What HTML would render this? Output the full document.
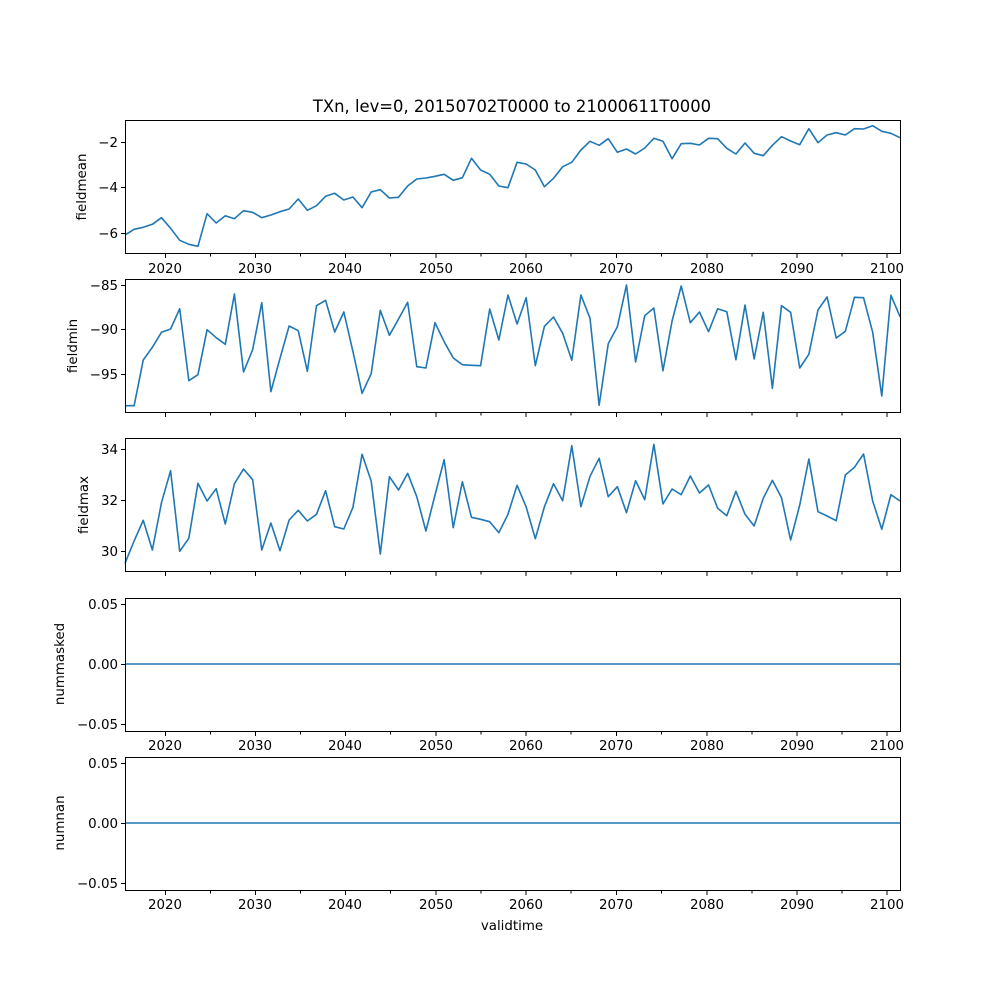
<!DOCTYPE html>
<html><head><meta charset="utf-8"><style>body{margin:0;background:#fff}svg{display:block}text{font-family:"DejaVu Sans","Liberation Sans",sans-serif;font-size:13.4px;fill:#000}</style></head>
<body>
<svg width="1000" height="1000" viewBox="0 0 1000 1000" xmlns="http://www.w3.org/2000/svg">
<rect width="1000" height="1000" fill="#fff"/>
<text x="512" y="112" text-anchor="middle" style="font-size:16.4px">TXn, lev=0, 20150702T0000 to 21000611T0000</text>
<g fill="none" stroke="#1f77b4" stroke-width="1.6" stroke-linejoin="round">
<polyline vector-effect="non-scaling-stroke" transform="translate(125,0) scale(9.118,1)" points="0,235 1,229.3 2,227.3 3,224.3 4,217.7 5,228.3 6,240.3 7,244.3 8,246.3 9,213.7 10,223 11,215.7 12,218.7 13,210.7 14,212.3 15,217.7 16,215 17,211.7 18,209 19,199 20,210.3 21,205.7 22,196.3 23,193.3 24,200 25,197 26,207.7 27,192 28,189.7 29,198 30,197.3 31,186 32,179 33,178 34,176.3 35,174.3 36,180.3 37,177.7 38,158.3 39,170 40,174.3 41,186 42,187.7 43,162.3 44,164 45,170 46,186.7 47,178.3 48,166.7 49,162.3 50,150 51,141.3 52,145.3 53,138.7 54,152.3 55,149 56,154 57,148 58,138.3 59,141.3 60,158.7 61,143.7 62,143.3 63,145 64,138.3 65,138.7 66,148.3 67,154 68,143 69,153.3 70,155.7 71,145.3 72,136.7 73,141 74,144.7 75,128.7 76,142.7 77,135 78,132.7 79,135 80,128.7 81,129 82,125.7 83,131.3 84,133.3 85,137.7"/>
<polyline vector-effect="non-scaling-stroke" transform="translate(125,0) scale(9.118,1)" points="0,405.7 1,405.7 2,360 3,347.3 4,332.3 5,329 6,308.7 7,380.7 8,374.7 9,329.7 10,337.7 11,344.3 12,294 13,372 14,349.7 15,302.7 16,391.7 17,358.3 18,326 19,330.7 20,371.3 21,305.7 22,300.3 23,332 24,312 25,351.7 26,393.3 27,373.7 28,310.3 29,335.3 30,319 31,302.3 32,366.7 33,368 34,322.7 35,341.7 36,358 37,364.7 38,365.3 39,365.7 40,309 41,340 42,295 43,324 44,297.7 45,365.7 46,326.3 47,317 48,333.3 49,360.3 50,295 51,318.3 52,405.3 53,343.7 54,326.7 55,285 56,362 57,315.7 58,308 59,370.7 60,321 61,286 62,322.7 63,312 64,331.7 65,308.7 66,311.7 67,359.7 68,305 69,359 70,312.3 71,388.3 72,305.7 73,312.3 74,368 75,354.3 76,310 77,297 78,338 79,331.3 80,297.3 81,297.7 82,332.3 83,396 84,295.3 85,316.7"/>
<polyline vector-effect="non-scaling-stroke" transform="translate(125,0) scale(9.118,1)" points="0,563.3 1,541 2,520.3 3,550 4,502.7 5,470.7 6,551.3 7,538.3 8,483.3 9,501 10,488.7 11,524 12,483.7 13,469 14,479.7 15,550 16,523 17,550.7 18,520 19,510.3 20,521 21,514.3 22,490.7 23,526.7 24,529 25,507.3 26,454.3 27,481 28,554 29,476.7 30,490 31,473.3 32,496.7 33,531 34,495 35,459.7 36,527.7 37,481.7 38,517.3 39,519.3 40,521.7 41,532.7 42,514.3 43,485.3 44,507 45,538.7 46,506.7 47,483.7 48,500.7 49,445.7 50,506.7 51,476.3 52,458.3 53,496.7 54,486.7 55,512.7 56,480.7 57,499.7 58,444.3 59,504 60,489 61,494.7 62,476 63,493 64,485 65,508.3 66,515.7 67,491.3 68,514.3 69,526 70,498.3 71,480.3 72,497.7 73,540 74,505 75,459 76,511.7 77,516 78,520.7 79,475 80,467.3 81,454 82,501 83,529.3 84,494.7 85,501"/>
<line x1="125" y1="664" x2="900" y2="664"/>
<line x1="125" y1="823" x2="900" y2="823"/>
</g>
<g fill="none" stroke="#000" stroke-width="1">
<rect x="125.5" y="120.5" width="775" height="133"/>
<rect x="125.5" y="279.5" width="775" height="133"/>
<rect x="125.5" y="438.5" width="775" height="133"/>
<rect x="125.5" y="598.5" width="775" height="133"/>
<rect x="125.5" y="757.5" width="775" height="133"/>
<path d="M165.5,0v4M255.5,0v4M345.5,0v4M436,0v4M526,0v4M616.5,0v4M707,0v4M797,0v4M887,0v4M210.5,0v2.5M300.5,0v2.5M390.5,0v2.5M481,0v2.5M571,0v2.5M661.5,0v2.5M752,0v2.5M842,0v2.5" transform="translate(0,254)"/>
<path d="M165.5,0v4M255.5,0v4M345.5,0v4M436,0v4M526,0v4M616.5,0v4M707,0v4M797,0v4M887,0v4M210.5,0v2.5M300.5,0v2.5M390.5,0v2.5M481,0v2.5M571,0v2.5M661.5,0v2.5M752,0v2.5M842,0v2.5" transform="translate(0,413)"/>
<path d="M165.5,0v4M255.5,0v4M345.5,0v4M436,0v4M526,0v4M616.5,0v4M707,0v4M797,0v4M887,0v4M210.5,0v2.5M300.5,0v2.5M390.5,0v2.5M481,0v2.5M571,0v2.5M661.5,0v2.5M752,0v2.5M842,0v2.5" transform="translate(0,572)"/>
<path d="M165.5,0v4M255.5,0v4M345.5,0v4M436,0v4M526,0v4M616.5,0v4M707,0v4M797,0v4M887,0v4M210.5,0v2.5M300.5,0v2.5M390.5,0v2.5M481,0v2.5M571,0v2.5M661.5,0v2.5M752,0v2.5M842,0v2.5" transform="translate(0,732)"/>
<path d="M165.5,0v4M255.5,0v4M345.5,0v4M436,0v4M526,0v4M616.5,0v4M707,0v4M797,0v4M887,0v4M210.5,0v2.5M300.5,0v2.5M390.5,0v2.5M481,0v2.5M571,0v2.5M661.5,0v2.5M752,0v2.5M842,0v2.5" transform="translate(0,891)"/>
<path d="M121,142.5h4M121,187.5h4M121,233.5h4M121,285.5h4M121,329.5h4M121,374.5h4M121,449.5h4M121,500.5h4M121,551.5h4M121,604.5h4M121,664.5h4M121,724.5h4M121,763.5h4M121,823.5h4M121,883.5h4"/>
</g>
<g text-anchor="end">
<text x="118" y="147">−2</text><text x="118" y="192">−4</text><text x="118" y="238">−6</text>
<text x="118" y="290">−85</text><text x="118" y="334">−90</text><text x="118" y="379">−95</text>
<text x="118" y="454">34</text><text x="118" y="505">32</text><text x="118" y="556">30</text>
<text x="118" y="609">0.05</text><text x="118" y="669">0.00</text><text x="118" y="729">−0.05</text>
<text x="118" y="768">0.05</text><text x="118" y="828">0.00</text><text x="118" y="888">−0.05</text>
</g>
<g text-anchor="middle">
<g transform="translate(0,273)"><text x="165">2020</text><text x="255">2030</text><text x="345">2040</text><text x="436">2050</text><text x="526">2060</text><text x="616">2070</text><text x="707">2080</text><text x="797">2090</text><text x="887">2100</text></g>
<g transform="translate(0,750)"><text x="165">2020</text><text x="255">2030</text><text x="345">2040</text><text x="436">2050</text><text x="526">2060</text><text x="616">2070</text><text x="707">2080</text><text x="797">2090</text><text x="887">2100</text></g>
<g transform="translate(0,909)"><text x="165">2020</text><text x="255">2030</text><text x="345">2040</text><text x="436">2050</text><text x="526">2060</text><text x="616">2070</text><text x="707">2080</text><text x="797">2090</text><text x="887">2100</text></g>
<text x="512" y="930">validtime</text>
<text transform="translate(86,187) rotate(-90)">fieldmean</text>
<text transform="translate(77,346) rotate(-90)">fieldmin</text>
<text transform="translate(88,505) rotate(-90)">fieldmax</text>
<text transform="translate(64,664) rotate(-90)">nummasked</text>
<text transform="translate(64,823) rotate(-90)">numnan</text>
</g>
</svg>
</body></html>
